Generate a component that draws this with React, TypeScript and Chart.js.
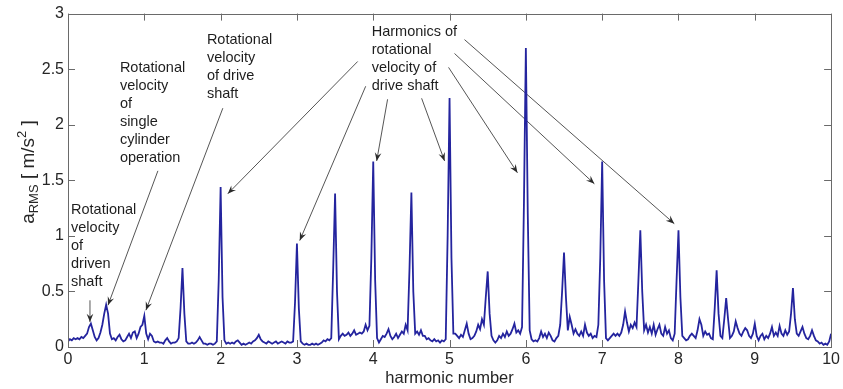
import { useEffect, useRef } from "react";
import { Chart, registerables } from "chart.js";

Chart.register(...registerables);

// harmonic number step between samples
const X_STEP = 0.025;

// a_RMS values [m/s^2], rows of half a harmonic each (first row starts at 0)
const aRms_0_05 = [0.05, 0.07, 0.06, 0.08, 0.07, 0.08, 0.07, 0.09, 0.08, 0.1, 0.12, 0.18, 0.21, 0.15, 0.09, 0.06, 0.08, 0.13, 0.2, 0.3, 0.38];
const aRms_05_1 = [0.3, 0.12, 0.07, 0.08, 0.06, 0.09, 0.11, 0.07, 0.05, 0.06, 0.09, 0.12, 0.08, 0.13, 0.14, 0.08, 0.12, 0.18, 0.2, 0.28];
const aRms_1_15 = [0.12, 0.07, 0.12, 0.1, 0.05, 0.04, 0.05, 0.04, 0.04, 0.03, 0.06, 0.08, 0.05, 0.03, 0.04, 0.04, 0.05, 0.08, 0.35, 0.71];
const aRms_15_2 = [0.3, 0.05, 0.03, 0.03, 0.04, 0.03, 0.04, 0.06, 0.09, 0.06, 0.03, 0.03, 0.02, 0.03, 0.03, 0.02, 0.03, 0.05, 0.6, 1.44];
const aRms_2_25 = [0.45, 0.06, 0.03, 0.04, 0.03, 0.04, 0.03, 0.05, 0.06, 0.04, 0.02, 0.03, 0.02, 0.03, 0.04, 0.03, 0.05, 0.06, 0.08, 0.11];
const aRms_25_3 = [0.07, 0.05, 0.04, 0.03, 0.05, 0.04, 0.03, 0.04, 0.05, 0.03, 0.04, 0.05, 0.04, 0.03, 0.05, 0.04, 0.04, 0.05, 0.4, 0.93];
const aRms_3_35 = [0.35, 0.05, 0.03, 0.02, 0.03, 0.02, 0.02, 0.03, 0.02, 0.03, 0.02, 0.03, 0.04, 0.06, 0.05, 0.07, 0.06, 0.08, 0.7, 1.38];
const aRms_35_4 = [0.5, 0.07, 0.1, 0.12, 0.1, 0.11, 0.13, 0.1, 0.12, 0.15, 0.11, 0.12, 0.13, 0.12, 0.14, 0.2, 0.15, 0.19, 0.8, 1.67];
const aRms_4_45 = [0.6, 0.08, 0.04, 0.07, 0.1, 0.09, 0.12, 0.16, 0.1, 0.07, 0.09, 0.12, 0.08, 0.11, 0.14, 0.12, 0.2, 0.15, 0.7, 1.39];
const aRms_45_5 = [0.5, 0.12, 0.14, 0.11, 0.15, 0.1, 0.1, 0.07, 0.08, 0.06, 0.05, 0.07, 0.05, 0.06, 0.04, 0.06, 0.05, 0.07, 1.0, 2.24];
const aRms_5_55 = [0.8, 0.12, 0.12, 0.1, 0.08, 0.11, 0.09, 0.15, 0.21, 0.12, 0.07, 0.08, 0.1, 0.14, 0.2, 0.16, 0.25, 0.2, 0.45, 0.68];
const aRms_55_6 = [0.3, 0.1, 0.06, 0.04, 0.06, 0.1, 0.08, 0.12, 0.09, 0.14, 0.1, 0.12, 0.16, 0.21, 0.13, 0.15, 0.12, 0.18, 1.3, 2.69];
const aRms_6_65 = [1.2, 0.15, 0.07, 0.05, 0.06, 0.05, 0.08, 0.14, 0.09, 0.12, 0.08, 0.13, 0.1, 0.06, 0.05, 0.08, 0.1, 0.2, 0.5, 0.85];
const aRms_65_7 = [0.45, 0.15, 0.27, 0.2, 0.12, 0.16, 0.12, 0.1, 0.14, 0.1, 0.2, 0.13, 0.1, 0.12, 0.08, 0.1, 0.09, 0.2, 0.8, 1.67];
const aRms_7_75 = [0.6, 0.08, 0.06, 0.08, 0.1, 0.12, 0.1, 0.12, 0.1, 0.13, 0.2, 0.32, 0.22, 0.14, 0.2, 0.17, 0.22, 0.18, 0.6, 1.05];
const aRms_75_8 = [0.5, 0.15, 0.2, 0.13, 0.18, 0.12, 0.2, 0.11, 0.16, 0.2, 0.12, 0.1, 0.18, 0.12, 0.15, 0.08, 0.06, 0.12, 0.6, 1.05];
const aRms_8_85 = [0.45, 0.1, 0.08, 0.06, 0.07, 0.1, 0.12, 0.1, 0.08, 0.15, 0.25, 0.2, 0.1, 0.14, 0.11, 0.12, 0.08, 0.07, 0.35, 0.69];
const aRms_85_9 = [0.3, 0.1, 0.08, 0.25, 0.44, 0.25, 0.08, 0.1, 0.14, 0.23, 0.17, 0.12, 0.1, 0.14, 0.17, 0.15, 0.1, 0.08, 0.12, 0.21];
const aRms_9_95 = [0.1, 0.06, 0.1, 0.12, 0.07, 0.1, 0.08, 0.12, 0.18, 0.1, 0.13, 0.1, 0.19, 0.12, 0.1, 0.15, 0.11, 0.14, 0.3, 0.53];
const aRms_95_10 = [0.25, 0.12, 0.1, 0.14, 0.18, 0.12, 0.08, 0.07, 0.1, 0.15, 0.1, 0.06, 0.05, 0.03, 0.04, 0.02, 0.03, 0.02, 0.05, 0.12];

const aRms = [
  ...aRms_0_05, ...aRms_05_1, ...aRms_1_15, ...aRms_15_2, ...aRms_2_25,
  ...aRms_25_3, ...aRms_3_35, ...aRms_35_4, ...aRms_4_45, ...aRms_45_5,
  ...aRms_5_55, ...aRms_55_6, ...aRms_6_65, ...aRms_65_7, ...aRms_7_75,
  ...aRms_75_8, ...aRms_8_85, ...aRms_85_9, ...aRms_9_95, ...aRms_95_10,
];
const harmonicNumber = aRms.map((_, i) => +(i * X_STEP).toFixed(3));

const xTicks = [0, 1, 2, 3, 4, 5, 6, 7, 8, 9, 10];
const yTicks = [0, 0.5, 1, 1.5, 2, 2.5, 3];

const xTitle = "harmonic number";

// annotation texts, anchored in data coordinates (first line centre)
const notes = [
  { x: 0.04, y: 1.23, lines: ["Rotational", "velocity", "of", "driven", "shaft"] },
  { x: 0.68, y: 2.507, lines: ["Rotational", "velocity", "of", "single", "cylinder", "operation"] },
  { x: 1.82, y: 2.766, lines: ["Rotational", "velocity", "of drive", "shaft"] },
  { x: 3.98, y: 2.838, lines: ["Harmonics of", "rotational", "velocity of", "drive shaft"] },
];

// arrows in data coordinates: [x0, y0, x1, y1] (head at x1, y1)
const arrows = [
  [0.288, 0.42, 0.288, 0.224],
  [1.178, 1.585, 0.524, 0.376],
  [2.029, 2.149, 1.021, 0.331],
  [3.796, 2.569, 2.094, 1.379],
  [3.901, 2.346, 3.037, 0.958],
  [4.188, 2.229, 4.045, 1.674],
  [4.634, 2.238, 4.935, 1.674],
  [4.987, 2.516, 5.89, 1.567],
  [5.065, 2.641, 6.898, 1.468],
  [5.196, 2.766, 7.945, 1.11],
];

const FONT = '"Liberation Sans", Arial, sans-serif';

const decorPlugin = {
  id: "decor",
  beforeDatasetsDraw(chart: any) {
    const ctx = chart.ctx;
    const xs = chart.scales.x;
    const ys = chart.scales.y;
    ctx.save();
    ctx.fillStyle = "#1e1e1e";
    ctx.font = `14.5px ${FONT}`;
    ctx.textAlign = "left";
    ctx.textBaseline = "middle";
    for (const n of notes) {
      const px = xs.getPixelForValue(n.x);
      const py = ys.getPixelForValue(n.y);
      n.lines.forEach((l, i) => ctx.fillText(l, px, py + i * 18));
    }
    ctx.strokeStyle = "#2a2a2a";
    ctx.fillStyle = "#2a2a2a";
    ctx.lineWidth = 0.8;
    for (const a of arrows) {
      const x0 = xs.getPixelForValue(a[0]);
      const y0 = ys.getPixelForValue(a[1]);
      const x1 = xs.getPixelForValue(a[2]);
      const y1 = ys.getPixelForValue(a[3]);
      ctx.beginPath();
      ctx.moveTo(x0, y0);
      ctx.lineTo(x1, y1);
      ctx.stroke();
      const ang = Math.atan2(y1 - y0, x1 - x0);
      const L = 9;
      const w = 0.38;
      const bx1 = x1 - L * Math.cos(ang - w);
      const by1 = y1 - L * Math.sin(ang - w);
      const bx2 = x1 - L * Math.cos(ang + w);
      const by2 = y1 - L * Math.sin(ang + w);
      const nx = x1 - L * 0.6 * Math.cos(ang);
      const ny = y1 - L * 0.6 * Math.sin(ang);
      ctx.beginPath();
      ctx.moveTo(x1, y1);
      ctx.lineTo(bx1, by1);
      ctx.lineTo(nx, ny);
      ctx.lineTo(bx2, by2);
      ctx.closePath();
      ctx.fill();
    }
    ctx.restore();
  },
  afterDraw(chart: any) {
    const ctx = chart.ctx;
    const { left, right, top, bottom } = chart.chartArea;
    const xs = chart.scales.x;
    const ys = chart.scales.y;
    ctx.save();
    ctx.strokeStyle = "#6a6a6a";
    ctx.lineWidth = 1;
    ctx.strokeRect(Math.round(left) + 0.5, Math.round(top) + 0.5, Math.round(right - left), Math.round(bottom - top));
    const TL = 7;
    ctx.beginPath();
    for (const v of xTicks) {
      const px = Math.round(xs.getPixelForValue(v)) + 0.5;
      ctx.moveTo(px, bottom);
      ctx.lineTo(px, bottom - TL);
      ctx.moveTo(px, top);
      ctx.lineTo(px, top + TL);
    }
    for (const v of yTicks) {
      const py = Math.round(ys.getPixelForValue(v)) + 0.5;
      ctx.moveTo(left, py);
      ctx.lineTo(left + TL, py);
      ctx.moveTo(right, py);
      ctx.lineTo(right - TL, py);
    }
    ctx.stroke();

    ctx.fillStyle = "#262626";
    ctx.font = `16.5px ${FONT}`;
    ctx.textAlign = "center";
    ctx.textBaseline = "middle";
    ctx.fillText(xTitle, (left + right) / 2, 378);

    const parts = [
      { t: "a", size: 19, dy: 0 },
      { t: "RMS", size: 13, dy: 4 },
      { t: " [ m/s", size: 19, dy: 0 },
      { t: "2", size: 13, dy: -8 },
      { t: " ]", size: 19, dy: 0 },
    ];
    let total = 0;
    for (const p of parts) {
      ctx.font = `${p.size}px ${FONT}`;
      total += ctx.measureText(p.t).width;
    }
    ctx.translate(34, 172);
    ctx.rotate(-Math.PI / 2);
    ctx.textAlign = "left";
    ctx.textBaseline = "alphabetic";
    let cx = -total / 2;
    for (const p of parts) {
      ctx.font = `${p.size}px ${FONT}`;
      ctx.fillText(p.t, cx, p.dy);
      cx += ctx.measureText(p.t).width;
    }
    ctx.restore();
  },
};

export default function App() {
  const ref = useRef<HTMLCanvasElement | null>(null);
  useEffect(() => {
    document.body.style.margin = "0";
    const canvas = ref.current;
    if (!canvas) return;
    const chart = new Chart(canvas, {
      type: "line",
      data: {
        datasets: [
          {
            data: harmonicNumber.map((x, i) => ({ x, y: aRms[i] })),
            borderColor: "#24249e",
            borderWidth: 1.8,
            pointRadius: 0,
            tension: 0,
            fill: false,
          },
        ],
      },
      options: {
        animation: false,
        responsive: true,
        maintainAspectRatio: false,
        layout: { padding: { top: 12, right: 11, left: 0, bottom: 0 } },
        plugins: { legend: { display: false }, tooltip: { enabled: false } },
        scales: {
          x: {
            type: "linear",
            min: 0,
            max: 10,
            afterFit: (s: any) => { s.height = 42; },
            afterBuildTicks: (s: any) => { s.ticks = xTicks.map((v) => ({ value: v })); },
            grid: { display: false, drawTicks: false },
            border: { display: false },
            ticks: {
              padding: 3,
              color: "#262626",
              font: { family: FONT, size: 16 },
              maxRotation: 0,
              autoSkip: false,
              callback: (v: any) => String(v),
            },
          },
          y: {
            type: "linear",
            min: 0,
            max: 3,
            afterFit: (s: any) => { s.width = 68; },
            afterBuildTicks: (s: any) => { s.ticks = yTicks.map((v) => ({ value: v })); },
            grid: { display: false, drawTicks: false },
            border: { display: false },
            ticks: {
              padding: 4,
              color: "#262626",
              font: { family: FONT, size: 16 },
              autoSkip: false,
              callback: (v: any) => String(v),
            },
          },
        },
      },
      plugins: [decorPlugin],
    } as any);
    return () => chart.destroy();
  }, []);
  return (
    <div style={{ position: "relative", width: 843, height: 389, background: "#fff" }}>
      <canvas ref={ref} />
    </div>
  );
}
